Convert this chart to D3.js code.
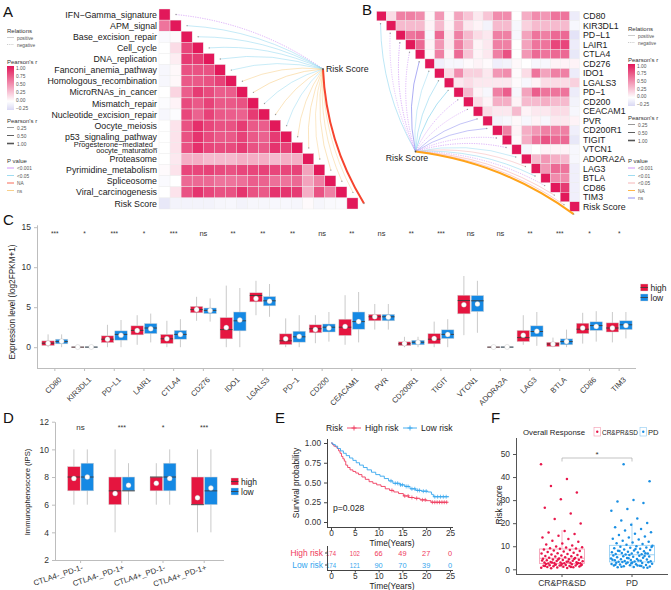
<!DOCTYPE html>
<html>
<head>
<meta charset="utf-8">
<script src="https://cdn.jsdelivr.net/npm/d3@7"></script>
<style>
  body { margin: 0; background: #fff; }
  svg { font-family: "Liberation Sans", Arial, sans-serif; }
</style>
</head>
<body>
<svg id="fig" width="671" height="590"></svg>
<script>
// ---------- data: panel A (pathway correlation, lower triangle) ----------
const pathways = ['IFN\u2212Gamma_signature', 'APM_signal', 'Base_excision_repair', 'Cell_cycle',
  'DNA_replication', 'Fanconi_anemia_pathway', 'Homologous_recombination', 'MicroRNAs_in_cancer',
  'Mismatch_repair', 'Nucleotide_excision_repair', 'Oocyte_meiosis', 'p53_signaling_pathway',
  'Progesterone\u2212mediated_|oocyte_maturation', 'Proteasome', 'Pyrimidine_metabolism',
  'Spliceosome', 'Viral_carcinogenesis', 'Risk Score'];
const corA = [
  [1],
  [0.6, 1],
  [-0.03, 0.02, 1],
  [0.0, 0.15, 0.8, 1],
  [0.0, 0.08, 0.85, 0.85, 1],
  [-0.05, 0.03, 0.75, 0.75, 0.75, 1],
  [-0.05, 0.03, 0.72, 0.72, 0.75, 0.82, 1],
  [0.0, 0.18, 0.7, 0.85, 0.78, 0.7, 0.7, 1],
  [-0.02, 0.05, 0.78, 0.72, 0.82, 0.72, 0.72, 0.75, 1],
  [-0.05, -0.02, 0.8, 0.68, 0.82, 0.72, 0.7, 0.68, 0.85, 1],
  [0.0, 0.12, 0.75, 0.9, 0.8, 0.75, 0.75, 0.85, 0.72, 0.7, 1],
  [0.0, 0.12, 0.75, 0.88, 0.78, 0.72, 0.72, 0.82, 0.72, 0.68, 0.85, 1],
  [0.0, 0.12, 0.75, 0.9, 0.8, 0.78, 0.78, 0.85, 0.75, 0.72, 0.88, 0.82, 1],
  [0.0, 0.1, 0.35, 0.35, 0.3, 0.3, 0.3, 0.35, 0.35, 0.35, 0.3, 0.35, 0.35, 1],
  [0.02, 0.12, 0.8, 0.8, 0.82, 0.78, 0.75, 0.8, 0.8, 0.82, 0.8, 0.8, 0.82, 0.4, 1],
  [-0.03, 0.0, 0.65, 0.65, 0.65, 0.6, 0.6, 0.62, 0.7, 0.68, 0.62, 0.6, 0.65, 0.4, 0.55, 1],
  [0.0, 0.12, 0.75, 0.88, 0.8, 0.75, 0.75, 0.88, 0.75, 0.72, 0.88, 0.88, 0.85, 0.35, 0.75, 0.55, 1],
  [-0.15, -0.08, -0.08, -0.08, -0.08, -0.06, -0.05, -0.08, -0.06, -0.06, -0.05, -0.05, -0.06, 0.02, -0.06, -0.04, -0.03, 1]
];
const linkPA = ['<0.001', '<0.05', '<0.05', '<0.05', '<0.05', '<0.05', 'ns', 'ns', '<0.05', 'ns',
  '<0.05', 'ns', 'ns', 'ns', 'ns', 'ns', 'ns', 'NA'];
const linkRelA = ['negative', 'positive', 'positive', 'positive', 'positive', 'positive', 'positive',
  'positive', 'positive', 'positive', 'positive', 'positive', 'positive', 'positive', 'positive',
  'positive', 'positive', 'positive'];

// ---------- data: panel B (checkpoint genes, upper triangle) ----------
const genes = ['CD80', 'KIR3DL1', 'PD\u2212L1', 'LAIR1', 'CTLA4', 'CD276', 'IDO1', 'LGALS3', 'PD\u22121',
  'CD200', 'CEACAM1', 'PVR', 'CD200R1', 'TIGIT', 'VTCN1', 'ADORA2A', 'LAG3', 'BTLA', 'CD86', 'TIM3'];
const corB = [
  [1, 0.15, 0.55, 0.55, 0.5, 0.03, 0.45, 0.03, 0.4, 0.25, 0.1, 0.25, 0.5, 0.5, 0.0, 0.35, 0.5, 0.45, 0.6, 0.6, -0.12],
  [1, 0.3, 0.3, 0.3, 0.05, 0.3, 0.05, 0.35, 0.1, 0.05, -0.08, 0.3, 0.3, -0.05, 0.2, 0.3, 0.3, 0.3, 0.3, -0.05],
  [1, 0.6, 0.65, -0.05, 0.65, 0.1, 0.55, 0.3, 0.15, 0.1, 0.55, 0.55, -0.05, 0.4, 0.6, 0.55, 0.65, 0.65, -0.18],
  [1, 0.65, 0.05, 0.45, 0.1, 0.55, 0.3, 0.05, 0.1, 0.55, 0.55, 0.0, 0.4, 0.6, 0.6, 0.8, 0.8, -0.12],
  [1, 0.03, 0.55, 0.05, 0.65, 0.25, 0.05, 0.1, 0.55, 0.75, 0.0, 0.45, 0.65, 0.6, 0.65, 0.65, -0.15],
  [1, -0.1, -0.05, -0.05, 0.02, 0.05, 0.02, -0.1, -0.08, 0.03, 0.0, -0.05, -0.05, 0.05, 0.05, 0.05],
  [1, 0.15, 0.5, 0.2, 0.2, 0.1, 0.45, 0.5, 0.02, 0.15, 0.6, 0.4, 0.55, 0.55, -0.12],
  [1, 0.1, 0.15, 0.1, 0.1, 0.1, 0.1, 0.02, -0.05, 0.05, 0.15, 0.15, 0.15, 0.2],
  [1, 0.3, 0.05, -0.05, 0.55, 0.7, -0.05, 0.4, 0.7, 0.6, 0.6, 0.6, -0.12],
  [1, 0.15, 0.05, 0.35, 0.35, 0.05, 0.3, 0.3, 0.35, 0.3, 0.3, -0.08],
  [1, 0.15, 0.1, 0.1, 0.3, 0.05, 0.1, 0.1, 0.15, 0.15, -0.05],
  [1, -0.08, -0.05, 0.03, -0.05, 0.05, -0.05, 0.1, 0.1, 0.05],
  [1, 0.55, 0.05, 0.35, 0.45, 0.55, 0.55, 0.55, -0.1],
  [1, 0.02, 0.35, 0.6, 0.75, 0.65, 0.65, -0.15],
  [1, -0.05, 0.0, 0.05, 0.05, 0.05, -0.05],
  [1, 0.3, 0.45, 0.35, 0.3, -0.05],
  [1, 0.45, 0.65, 0.6, -0.1],
  [1, 0.5, 0.5, -0.1],
  [1, 0.85, -0.1],
  [1, -0.1],
  [1]
];
const linkPB = ['<0.01', '<0.001', '<0.001', '<0.001', 'ns', '<0.01', '<0.01', '<0.01', '<0.001', '<0.001',
  'ns', 'ns', '<0.001', '<0.001', '<0.01', '<0.05', '<0.01', '<0.001', '<0.05', '<0.05', 'NA'];
const linkRelB = ['positive', 'negative', 'negative', 'negative', 'positive', 'positive', 'positive',
  'positive', 'negative', 'negative', 'positive', 'positive', 'negative', 'negative', 'positive',
  'positive', 'positive', 'negative', 'positive', 'positive', 'positive'];

// ---------- data: panel C (expression, [min, q1, median, q3, max, mean]) ----------
const exprHigh = [
  [0, 0.21, 0.5, 0.79, 1.6, 0.5], [0, 0, 0.01, 0.04, 0.1, 0.02], [0, 0.58, 1.0, 1.42, 2.8, 1.0],
  [0.3, 1.54, 2.1, 2.67, 4.0, 2.1], [0, 0.46, 1.05, 1.6, 3.3, 1.05], [3.3, 4.3, 4.7, 5.1, 6.3, 4.7],
  [0, 1.04, 2.2, 3.7, 7.7, 2.45], [4.0, 5.67, 6.46, 6.8, 8.3, 6.1], [0, 0.33, 0.8, 1.67, 3.6, 1.05],
  [0.5, 1.8, 2.3, 2.8, 4.0, 2.2], [0.3, 1.46, 2.5, 3.5, 6.5, 2.6], [2.2, 3.3, 3.8, 4.1, 5.4, 3.8],
  [0, 0.2, 0.42, 0.67, 1.3, 0.45], [0, 0.42, 1.0, 1.7, 3.2, 1.1], [1.5, 4.17, 5.83, 6.5, 8.9, 5.3],
  [0, 0, 0.01, 0.04, 0.1, 0.02], [0.3, 0.7, 1.2, 2.1, 4.0, 1.5], [0, 0.08, 0.4, 0.62, 1.2, 0.4],
  [0.45, 1.7, 2.25, 3.0, 4.3, 2.4], [0.6, 1.9, 2.4, 3.04, 4.4, 2.4]
];
const exprLow = [
  [0, 0.42, 0.7, 1.0, 1.6, 0.75], [0, 0, 0.01, 0.05, 0.1, 0.03], [0, 0.88, 1.6, 2.04, 3.4, 1.5],
  [0.6, 1.7, 2.4, 2.96, 4.2, 2.3], [0, 1.0, 1.6, 2.1, 3.5, 1.6], [3.2, 4.2, 4.6, 4.9, 6.1, 4.6],
  [0, 2.04, 3.3, 4.4, 7.4, 3.4], [3.8, 5.17, 5.8, 6.33, 7.9, 5.75], [0, 0.63, 1.3, 2.0, 4.0, 1.35],
  [0.7, 1.9, 2.5, 2.9, 4.4, 2.4], [0.6, 2.25, 3.2, 4.4, 6.9, 3.2], [2.2, 3.3, 3.8, 4.1, 5.4, 3.75],
  [0, 0.3, 0.62, 0.87, 1.3, 0.62], [0, 1.08, 1.6, 2.17, 3.5, 1.6], [1.8, 4.46, 5.8, 6.46, 8.3, 5.4],
  [0, 0, 0.01, 0.05, 0.1, 0.03], [0.17, 1.3, 1.96, 2.67, 4.4, 2.0], [0, 0.3, 0.7, 1.04, 2.2, 0.7],
  [0.7, 2.1, 2.7, 3.17, 4.5, 2.6], [1.1, 2.2, 2.8, 3.3, 4.4, 2.7]
];
const exprSig = ['***', '*', '***', '*', '***', 'ns', '**', '**', '**', 'ns', '**', 'ns', '**', '***',
  'ns', 'ns', '**', '***', '*', '*'];
const exprTicks = [0, 5, 10, 15];

// ---------- data: panel D (IPS) ----------
const ipsGroups = ['CTLA4-_PD-1-', 'CTLA4-_PD-1+', 'CTLA4+_PD-1-', 'CTLA4+_PD-1+'];
const ipsHigh = [[6, 7, 8, 8.75, 10, 7.9], [4, 6, 7, 8, 10, 6.8], [6, 7, 8, 8, 9, 7.55], [4, 6, 6, 8, 10, 6.5]];
const ipsLow = [[6, 7, 8, 9, 10, 8.0], [6, 7, 7, 8, 9, 7.4], [6, 7, 8, 9, 10, 7.9], [4, 6, 7, 8, 10, 7.2]];
const ipsSig = ['ns', '***', '*', '***'];
const ipsTicks = [2, 4, 6, 8, 10, 12];

// ---------- data: panel E (Kaplan-Meier) ----------
const kmHighTime = [0, 0.3, 0.6, 1.0, 1.3, 1.6, 1.9, 2.2, 2.5, 2.8, 3.1, 3.5, 4.0, 4.6, 5.2, 5.8, 6.5, 7.2,
  8.0, 8.8, 9.6, 10.5, 11.4, 12.3, 13.2, 14.2, 15.2, 16.3, 17.5, 18.7, 20.0, 21.0, 24.5];
const kmHighSurv = [1, 0.98, 0.96, 0.95, 0.93, 0.9, 0.87, 0.83, 0.8, 0.77, 0.72, 0.69, 0.66, 0.64, 0.62, 0.6,
  0.57, 0.54, 0.51, 0.49, 0.47, 0.45, 0.42, 0.4, 0.38, 0.36, 0.33, 0.31, 0.3, 0.28, 0.27, 0.25, 0.25];
const kmLowTime = [0, 0.4, 0.9, 1.4, 2.0, 2.6, 3.2, 3.9, 4.6, 5.3, 6.0, 6.8, 7.6, 8.5, 9.4, 10.3, 11.2, 12.1,
  13.0, 14.5, 15.5, 16.6, 17.8, 19.0, 20.3, 21.1, 21.5, 24.8];
const kmLowSurv = [1, 0.98, 0.96, 0.93, 0.9, 0.87, 0.84, 0.81, 0.78, 0.75, 0.72, 0.69, 0.66, 0.63, 0.6, 0.58,
  0.55, 0.52, 0.49, 0.47, 0.45, 0.42, 0.4, 0.39, 0.38, 0.35, 0.32, 0.32];
const kmHighCensor = [12.8, 15.5, 16.2, 17.0, 18.0, 19.2, 19.8, 21.3, 21.8, 22.3, 22.8, 23.3, 23.8, 24.3];
const kmLowCensor = [12.6, 13.5, 14.0, 14.6, 15.0, 15.8, 16.2, 17.0, 17.6, 18.2, 18.6, 19.4, 20.0, 21.8,
  22.4, 23.0, 23.6, 24.2];
const kmTicks = [0, 5, 10, 15, 20, 25];
const atRiskHigh = [174, 102, 66, 49, 27, 0];
const atRiskLow = [174, 121, 90, 70, 39, 0];

// ---------- data: panel F (risk score by response) ----------
const respGroups = ['CR&PR&SD', 'PD'];
const riskCR = [45.6, 39.2, 36.1, 33.3, 30.4, 26.7, 24.2, 21.8, 19.9, 16.6, 16.0, 15.3, 14.6, 13.8, 13.1,
  12.4, 11.9, 11.2, 10.8, 10.3, 9.9, 9.6, 9.4, 9.1, 9.0, 8.9, 8.6, 8.4, 8.1, 7.9, 7.7, 7.5, 7.2, 7.0, 6.8,
  6.6, 6.4, 6.2, 6.0, 5.8, 5.7, 5.5, 5.3, 5.2, 5.0, 4.9, 4.7, 4.6, 4.4, 4.3, 4.1, 4.0, 3.9, 3.7, 3.6, 3.5,
  3.3, 3.2, 3.1, 3.0, 2.9, 2.8, 2.7, 2.6, 2.6, 2.5, 4.5, 4.2, 3.8, 3.4, 2.9, 2.7, 2.4, 2.3, 2.2, 2.1, 2.0,
  1.9, 1.8, 1.7, 1.6, 1.5, 1.4, 1.3, 1.2, 1.1, 1.0, 0.9, 0.8, 0.7, 0.6, 0.5, 2.3, 1.8, 1.4, 1.0, 2.0, 1.6];
const riskPD = [45.6, 38.2, 30.1, 29.4, 28.7, 26.1, 25.4, 22.0, 21.2, 20.1, 19.3, 18.2, 17.5, 16.8, 16.1,
  15.4, 14.9, 14.2, 13.8, 13.3, 12.9, 12.4, 12.0, 11.6, 11.3, 11.0, 10.7, 10.2, 10.0, 9.8, 9.5, 9.3, 9.1,
  8.9, 8.6, 8.4, 8.2, 8.0, 7.8, 7.6, 7.4, 7.3, 7.1, 6.9, 6.8, 6.6, 6.5, 6.4, 9.7, 8.8, 7.9, 7.0, 6.2, 6.0,
  5.9, 5.7, 5.5, 5.4, 5.2, 5.0, 4.9, 4.7, 4.5, 4.4, 4.2, 4.0, 3.9, 3.7, 3.6, 3.5, 3.4, 3.3, 5.8, 4.8, 4.1,
  3.8, 3.2, 3.1, 3.0, 2.8, 2.7, 2.5, 2.4, 2.2, 2.1, 1.9, 1.8, 1.6, 1.5, 1.3, 1.2, 1.0, 0.9, 0.8, 2.9, 2.3,
  1.7, 1.1, 0.7, 2.6, 2.0, 1.4];
const respBoxes = [[0.5, 2.5, 4.8, 8.8, 17], [0.6, 3.2, 6.3, 10.4, 20.3]];
const riskTicks = [0, 10, 20, 30, 40, 50];

// ---------- shared styles ----------
const RED = '#e5153f';
const BLUE = '#1589e4';
const corColor = d3.scaleLinear().domain([-0.25, 0, 1]).range(['#d9d8f4', '#ffffff', '#e2185a']);
const pColorA = { '<0.001': '#c57cf5', '<0.05': '#86d3ee', 'NA': '#f6442e', 'ns': '#f6c46e' };
const pColorB = { '<0.001': '#c57cf5', '<0.01': '#86d3ee', '<0.05': '#f3a3a6', 'NA': '#ffa31a', 'ns': '#7474ec' };
const linkWidth = d3.scaleLinear().domain([0, 1]).range([0.35, 2]);

const svg = d3.select('#fig');
const defs = svg.append('defs');

function panelLabel(t, x, y) {
  svg.append('text').attr('x', x).attr('y', y).attr('font-size', 15).attr('fill', '#111').text(t);
}
panelLabel('A', 3, 17);
panelLabel('B', 362, 15);
panelLabel('C', 3, 225);
panelLabel('D', 3, 423);
panelLabel('E', 275, 423);
panelLabel('F', 491, 423);

function linkPath(x1, y1, x2, y2, k) {
  const dx = x2 - x1, dy = y2 - y1;
  const cx = (x1 + x2) / 2 + k * dy, cy = (y1 + y2) / 2 - k * dx;
  return `M${x1},${y1}Q${cx},${cy} ${x2},${y2}`;
}

// legend shared by A and B
function corLegend(g, x, ys, pKeys, pColors) {
  const txt = (t, xx, yy, fs, fill) => g.append('text').attr('x', xx).attr('y', yy)
    .attr('font-size', fs).attr('fill', fill).text(t);
  txt('Relations', x, ys.rel, 6, '#333');
  [['positive', null], ['negative', '1.2,1']].forEach(([t, dash], i) => {
    const yy = ys.rel + 6.5 + i * 7;
    g.append('line').attr('x1', x).attr('x2', x + 7).attr('y1', yy - 2).attr('y2', yy - 2)
      .attr('stroke', '#aaa').attr('stroke-width', 0.6).attr('stroke-dasharray', dash);
    txt(t, x + 10, yy, 4.8, '#555');
  });
  txt("Pearson's r", x, ys.bar - 2, 6, '#333');
  const gid = 'grad' + x;
  const grad = defs.append('linearGradient').attr('id', gid)
    .attr('x1', 0).attr('x2', 0).attr('y1', 1).attr('y2', 0);
  [-0.25, 0, 0.25, 0.5, 0.75, 1].forEach(v => grad.append('stop')
    .attr('offset', (v + 0.25) / 1.25).attr('stop-color', corColor(v)));
  const bs = d3.scaleLinear().domain([-0.25, 1]).range([ys.bar + ys.barH - 2, ys.bar + 2]);
  g.append('rect').attr('x', x).attr('y', ys.bar).attr('width', 7).attr('height', ys.barH)
    .attr('fill', `url(#${gid})`);
  [1, 0.75, 0.5, 0.25, 0, -0.25].forEach(v => {
    txt(v < 0 ? '\u22120.25' : v.toFixed(2), x + 9, bs(v) + 1.7, 4.8, '#555');
  });
  txt("Pearson's r", x, ys.wid, 6, '#333');
  [0.25, 0.5, 1].forEach((v, i) => {
    const yy = ys.wid + 6.5 + i * 8;
    g.append('line').attr('x1', x).attr('x2', x + 7).attr('y1', yy - 2).attr('y2', yy - 2)
      .attr('stroke', '#555').attr('stroke-width', linkWidth(v) * 0.8);
    txt(v.toFixed(2), x + 10, yy, 4.8, '#555');
  });
  txt('P value', x, ys.p, 6, '#333');
  pKeys.forEach((k, i) => {
    const yy = ys.p + 7 + i * 7.5;
    g.append('line').attr('x1', x).attr('x2', x + 7).attr('y1', yy - 2).attr('y2', yy - 2)
      .attr('stroke', pColors[k]).attr('stroke-width', 0.8);
    txt(k, x + 10, yy, 4.8, '#555');
  });
}

// ---------- panel A ----------
(function panelA() {
  const g = svg.append('g');
  const n = pathways.length;
  const x = d3.scaleBand().domain(d3.range(n)).range([159, 358]);
  const y = d3.scaleBand().domain(d3.range(n)).range([9, 209]);
  const cw = x.bandwidth(), ch = y.bandwidth();
  const node = [323, 69];

  corA.forEach((row, i) => row.forEach((v, j) => {
    g.append('rect').attr('x', x(j)).attr('y', y(i)).attr('width', cw).attr('height', ch)
      .attr('fill', corColor(v)).attr('stroke', '#ececec').attr('stroke-width', 0.4);
  }));

  pathways.forEach((p, i) => {
    const parts = p.split('|');
    const t = g.append('text').attr('text-anchor', 'end').attr('font-size', 8.8).attr('fill', '#1a1a1a');
    if (parts.length === 1) {
      t.attr('x', 157).attr('y', y(i) + ch / 2 + 3.1).text(p);
    } else {
      t.attr('font-size', 7.4);
      t.append('tspan').attr('x', 157).attr('y', y(i) + ch / 2 - 0.9).text(parts[0]);
      t.append('tspan').attr('x', 157).attr('y', y(i) + ch / 2 + 5.6).text(parts[1]);
    }
  });

  pathways.forEach((p, i) => {
    const tx = x(i) + cw + 6, ty = y(i) + ch / 2;
    const r = Math.abs(corA[n - 1][i]);
    g.append('path').attr('d', linkPath(tx, ty, node[0], node[1], 0.13))
      .attr('fill', 'none').attr('stroke', pColorA[linkPA[i]])
      .attr('stroke-width', linkWidth(r))
      .attr('stroke-dasharray', linkRelA[i] === 'negative' ? '1.2,1.2' : null);
    g.append('circle').attr('cx', tx).attr('cy', ty).attr('r', 0.7).attr('fill', '#999');
  });
  g.append('circle').attr('cx', node[0]).attr('cy', node[1]).attr('r', 0.9).attr('fill', '#555');
  g.append('text').attr('x', node[0] + 3).attr('y', node[1] + 3.2).attr('font-size', 8.8)
    .attr('fill', '#1a1a1a').text('Risk Score');

  corLegend(g, 7, { rel: 33, bar: 66, barH: 44, wid: 123, p: 163 }, ['<0.001', '<0.05', 'NA', 'ns'], pColorA);
})();

// ---------- panel B ----------
(function panelB() {
  const g = svg.append('g');
  const labels = genes.concat(['Risk Score']);
  const n = labels.length;
  const x = d3.scaleBand().domain(d3.range(n)).range([376.7, 579.5]);
  const y = d3.scaleBand().domain(d3.range(n)).range([11.3, 211.3]);
  const cw = x.bandwidth(), ch = y.bandwidth();
  const node = [415.5, 151.5];

  corB.forEach((row, i) => row.forEach((v, k) => {
    const j = i + k;
    g.append('rect').attr('x', x(j)).attr('y', y(i)).attr('width', cw).attr('height', ch)
      .attr('fill', corColor(v)).attr('stroke', '#ececec').attr('stroke-width', 0.4);
  }));

  labels.forEach((l, i) => {
    g.append('text').attr('x', 583).attr('y', y(i) + ch / 2 + 3.1).attr('font-size', 8.8)
      .attr('fill', '#1a1a1a').text(l);
  });

  labels.forEach((l, i) => {
    const tx = x(i) + cw / 2 - 1, ty = y(i) + ch * 1.3;
    const r = Math.abs(corB[i][n - 1 - i]);
    g.append('path').attr('d', linkPath(tx, ty, node[0], node[1], -0.13))
      .attr('fill', 'none').attr('stroke', pColorB[linkPB[i]])
      .attr('stroke-width', linkWidth(r))
      .attr('stroke-dasharray', linkRelB[i] === 'negative' ? '1.2,1.2' : null);
    g.append('circle').attr('cx', tx).attr('cy', ty).attr('r', 0.7).attr('fill', '#999');
  });
  g.append('circle').attr('cx', node[0]).attr('cy', node[1]).attr('r', 0.9).attr('fill', '#555');
  g.append('text').attr('x', 407).attr('y', 160.5).attr('text-anchor', 'middle').attr('font-size', 8.8)
    .attr('fill', '#1a1a1a').text('Risk Score');

  corLegend(g, 628, { rel: 31, bar: 64, barH: 42, wid: 120, p: 163 },
    ['<0.001', '<0.01', '<0.05', 'NA', 'ns'], pColorB);
})();

// grouped box drawing used by C and D
function drawBox(g, cx, w, s, y, fill) {
  const mid = cx + w / 2;
  g.append('line').attr('x1', mid).attr('x2', mid).attr('y1', y(s[0])).attr('y2', y(s[4]))
    .attr('stroke', '#c4c4c4').attr('stroke-width', 0.9);
  g.append('rect').attr('x', cx).attr('y', y(s[3])).attr('width', w)
    .attr('height', Math.max(0.6, y(s[1]) - y(s[3])))
    .attr('fill', fill).attr('stroke', '#d4d4d4').attr('stroke-width', 0.5);
  g.append('line').attr('x1', cx).attr('x2', cx + w).attr('y1', y(s[2])).attr('y2', y(s[2]))
    .attr('stroke', '#3a3a3a').attr('stroke-width', 0.9);
  g.append('circle').attr('cx', mid).attr('cy', y(s[5])).attr('r', 2.5)
    .attr('fill', '#fff').attr('stroke', '#aaa').attr('stroke-width', 0.3);
}

function styleAxis(a, lineColor, fs) {
  a.select('.domain').attr('stroke', lineColor);
  a.selectAll('.tick line').attr('stroke', lineColor);
  a.selectAll('.tick text').attr('fill', '#333').attr('font-size', fs)
    .attr('font-family', '"Liberation Sans", Arial, sans-serif');
}

function boxLegend(g, x, y0, fs) {
  [['high', RED], ['low', BLUE]].forEach(([t, c], i) => {
    const yy = y0 + i * 10;
    g.append('rect').attr('x', x).attr('y', yy).attr('width', 7.5).attr('height', 7)
      .attr('fill', c).attr('stroke', '#d4d4d4').attr('stroke-width', 0.4);
    g.append('line').attr('x1', x).attr('x2', x + 7.5).attr('y1', yy + 3.5).attr('y2', yy + 3.5)
      .attr('stroke', '#3a3a3a').attr('stroke-width', 0.8);
    g.append('text').attr('x', x + 10).attr('y', yy + 6.6).attr('font-size', fs).attr('fill', '#222').text(t);
  });
}

// ---------- panel C ----------
(function panelC() {
  const g = svg.append('g');
  const x = d3.scaleBand().domain(genes).range([40, 634]);
  const y = d3.scaleLinear().domain([-2.6, 15.3]).range([368, 224.8]);
  const sub = d3.scaleBand().domain(['high', 'low']).range([-13, 13]).paddingInner(0.08);
  const center = gname => x(gname) + x.bandwidth() / 2;

  const ya = g.append('g').attr('transform', 'translate(37,0)')
    .call(d3.axisLeft(y).tickValues(exprTicks).tickSize(3).tickSizeOuter(0));
  styleAxis(ya, '#bdbdbd', 8.5);
  const xa = g.append('g').attr('transform', 'translate(0,368)')
    .call(d3.axisBottom(x).tickSize(3).tickSizeOuter(0));
  xa.select('.domain').attr('d', 'M37,0.5H636');
  styleAxis(xa, '#bdbdbd', 7.6);
  xa.selectAll('.tick text').attr('text-anchor', 'end').attr('dx', 0).attr('dy', 0)
    .attr('transform', 'translate(3,8) rotate(-45)');

  genes.forEach((gn, i) => {
    const c = center(gn);
    drawBox(g, c + sub('high'), sub.bandwidth(), exprHigh[i], y, RED);
    drawBox(g, c + sub('low'), sub.bandwidth(), exprLow[i], y, BLUE);
    g.append('text').attr('x', c).attr('y', y(14.2) + 2).attr('text-anchor', 'middle')
      .attr('font-size', exprSig[i] === 'ns' ? 7.5 : 6.5).attr('fill', '#333').text(exprSig[i]);
  });

  g.append('text').attr('transform', 'translate(14.5,302) rotate(-90)').attr('text-anchor', 'middle')
    .attr('font-size', 8.2).attr('fill', '#222').text('Expression level (log2FPKM+1)');
  boxLegend(g, 640.5, 284, 8.5);
})();

// ---------- panel D ----------
(function panelD() {
  const g = svg.append('g');
  const x = d3.scaleBand().domain(ipsGroups).range([60, 224.8]);
  const y = d3.scaleLinear().domain([2, 12]).range([560, 421.7]);
  const sub = d3.scaleBand().domain(['high', 'low']).range([-13, 13]).paddingInner(0.06);

  const ya = g.append('g').attr('transform', 'translate(55,0)')
    .call(d3.axisLeft(y).tickValues(ipsTicks).tickSize(3).tickSizeOuter(0));
  styleAxis(ya, '#bdbdbd', 8.5);
  const xa = g.append('g').attr('transform', 'translate(0,560)')
    .call(d3.axisBottom(x).tickSize(3).tickSizeOuter(0));
  xa.select('.domain').attr('d', 'M55,0.5H224');
  styleAxis(xa, '#bdbdbd', 7.8);
  xa.selectAll('.tick text').attr('text-anchor', 'end').attr('dx', 0).attr('dy', 0)
    .attr('transform', 'translate(1,4) rotate(-18)');

  ipsGroups.forEach((gr, i) => {
    const c = x(gr) + x.bandwidth() / 2;
    drawBox(g, c + sub('high'), sub.bandwidth(), ipsHigh[i], y, RED);
    drawBox(g, c + sub('low'), sub.bandwidth(), ipsLow[i], y, BLUE);
    g.append('text').attr('x', c).attr('y', 430).attr('text-anchor', 'middle')
      .attr('font-size', ipsSig[i] === 'ns' ? 8 : 7).attr('fill', '#333').text(ipsSig[i]);
  });
  g.append('text').attr('transform', 'translate(30,492) rotate(-90)').attr('text-anchor', 'middle')
    .attr('font-size', 7.6).attr('fill', '#222').text('Immunophenoscore (IPS)');
  boxLegend(g, 231, 478, 8.5);
})();

// ---------- panel E ----------
(function panelE() {
  const g = svg.append('g');
  const x = d3.scaleLinear().domain([0, 25]).range([331, 450]);
  const y = d3.scaleLinear().domain([0, 1]).range([522, 443]);
  const KRED = '#ef3b5d', KBLUE = '#35a6ee';

  const ya = g.append('g').attr('transform', 'translate(327,0)')
    .call(d3.axisLeft(y).tickValues([0, 0.25, 0.5, 0.75, 1]).tickFormat(d3.format('.2f')).tickSize(3).tickSizeOuter(0));
  ya.select('.domain').attr('d', 'M0.5,439V527');
  styleAxis(ya, '#444', 8.3);
  const xa = g.append('g').attr('transform', 'translate(0,527)')
    .call(d3.axisBottom(x).tickValues(kmTicks).tickSize(3).tickPadding(0.3).tickSizeOuter(0));
  xa.select('.domain').attr('d', 'M327,0.5H453');
  styleAxis(xa, '#444', 8.3);

  const line = d3.line().curve(d3.curveStepAfter).x(d => x(d[0])).y(d => y(d[1]));
  const curves = [[kmHighTime, kmHighSurv, kmHighCensor, KRED], [kmLowTime, kmLowSurv, kmLowCensor, KBLUE]];
  curves.forEach(([t, s, cens, col]) => {
    g.append('path').attr('d', line(t.map((tt, i) => [tt, s[i]]))).attr('fill', 'none')
      .attr('stroke', col).attr('stroke-width', 0.9);
    cens.forEach(ct => {
      const sv = s[d3.bisectRight(t, ct) - 1];
      const px = x(ct), py = y(sv);
      g.append('path').attr('d', `M${px - 2},${py}H${px + 2}M${px},${py - 2}V${py + 2}`)
        .attr('stroke', col).attr('stroke-width', 0.7);
    });
  });

  g.append('text').attr('x', 333).attr('y', 511).attr('font-size', 8.6).attr('fill', '#222').text('p=0.028');
  g.append('text').attr('transform', 'translate(299,483) rotate(-90)').attr('text-anchor', 'middle')
    .attr('font-size', 8.4).attr('fill', '#222').text('Survival probability');
  g.append('text').attr('x', 392).attr('y', 545.5).attr('text-anchor', 'middle')
    .attr('font-size', 8.4).attr('fill', '#222').text('Time(Years)');

  // legend
  g.append('text').attr('x', 326).attr('y', 431).attr('font-size', 8.6).attr('fill', '#222').text('Risk');
  [[347, 'High risk', KRED, 365], [403, 'Low risk', KBLUE, 421]].forEach(([lx, t, col, tx]) => {
    g.append('path').attr('d', `M${lx},428H${lx + 14}M${lx + 7},425.5V430.5M${lx + 4.5},428H${lx + 9.5}`)
      .attr('stroke', col).attr('stroke-width', 0.9);
    g.append('text').attr('x', tx).attr('y', 431).attr('font-size', 8.6).attr('fill', '#222').text(t);
  });

  // risk table
  [[atRiskHigh, 'High risk', KRED, 556], [atRiskLow, 'Low risk', KBLUE, 568]].forEach(([vals, t, col, yy]) => {
    g.append('text').attr('x', 323).attr('y', yy).attr('text-anchor', 'end').attr('font-size', 8.4)
      .attr('fill', col).text(t);
    vals.forEach((v, i) => {
      const tt = g.append('text').attr('x', x(kmTicks[i])).attr('y', yy).attr('text-anchor', 'middle')
        .attr('font-size', 7.4).attr('fill', col).text(v);
      if (String(v).length === 3) tt.attr('textLength', 10).attr('lengthAdjust', 'spacingAndGlyphs');
    });
  });
  const ta = g.append('g').attr('transform', 'translate(0,570)')
    .call(d3.axisBottom(x).tickValues(kmTicks).tickSize(2.5).tickPadding(0.2).tickSizeOuter(0));
  ta.select('.domain').attr('d', 'M327,0.5H453');
  styleAxis(ta, '#444', 8.3);
  g.append('line').attr('x1', 327.5).attr('x2', 327.5).attr('y1', 546).attr('y2', 570)
    .attr('stroke', '#444');
  [556, 568].forEach(yy => g.append('line').attr('x1', 325).attr('x2', 327.5)
    .attr('y1', yy - 3).attr('y2', yy - 3).attr('stroke', '#444'));
  g.append('text').attr('x', 392).attr('y', 588.5).attr('text-anchor', 'middle')
    .attr('font-size', 8.4).attr('fill', '#222').text('Time(Years)');
})();

// ---------- panel F ----------
(function panelF() {
  const g = svg.append('g');
  const x = d3.scaleBand().domain(respGroups).range([527, 667]);
  const y = d3.scaleLinear().domain([0, 50]).range([569.3, 454]);
  const cols = [['#e8174b', '#f39ab0'], ['#1a8fe3', '#8ccaf2']];

  const ya = g.append('g').attr('transform', 'translate(516,0)')
    .call(d3.axisLeft(y).tickValues(riskTicks).tickSize(3).tickSizeOuter(0));
  ya.select('.domain').attr('d', 'M0.5,438V574');
  styleAxis(ya, '#555', 8.4);
  const xa = g.append('g').attr('transform', 'translate(0,574)')
    .call(d3.axisBottom(x).tickSize(3).tickSizeOuter(0));
  xa.select('.domain').attr('d', 'M516,0.5H668');
  styleAxis(xa, '#555', 8.6);

  [riskCR, riskPD].forEach((vals, gi) => {
    const c = x(respGroups[gi]) + x.bandwidth() / 2;
    const b = respBoxes[gi];
    const bw = 45;
    g.append('line').attr('x1', c).attr('x2', c).attr('y1', y(b[0])).attr('y2', y(b[4]))
      .attr('stroke', cols[gi][1]).attr('stroke-width', 0.7);
    g.append('rect').attr('x', c - bw / 2).attr('y', y(b[3])).attr('width', bw)
      .attr('height', y(b[1]) - y(b[3])).attr('fill', '#fff').attr('stroke', cols[gi][1]).attr('stroke-width', 0.8);
    g.append('line').attr('x1', c - bw / 2).attr('x2', c + bw / 2).attr('y1', y(b[2])).attr('y2', y(b[2]))
      .attr('stroke', cols[gi][1]).attr('stroke-width', 0.9);
    vals.forEach((v, i) => {
      const jit = ((i * 0.618034 + gi * 0.3) % 1 - 0.5) * 42;
      g.append('circle').attr('cx', c + jit).attr('cy', y(v)).attr('r', 1.25).attr('fill', cols[gi][0]);
    });
  });

  const c1 = x(respGroups[0]) + x.bandwidth() / 2, c2 = x(respGroups[1]) + x.bandwidth() / 2;
  g.append('path').attr('d', `M${c1},461.5V458H${c2}V461.5`).attr('fill', 'none')
    .attr('stroke', '#aaa').attr('stroke-width', 0.7);
  g.append('text').attr('x', (c1 + c2) / 2).attr('y', 457).attr('text-anchor', 'middle')
    .attr('font-size', 8).attr('fill', '#333').text('*');

  g.append('text').attr('transform', 'translate(502,505) rotate(-90)').attr('text-anchor', 'middle')
    .attr('font-size', 8.4).attr('fill', '#222').text('Risk score');

  g.append('text').attr('x', 523).attr('y', 435).attr('font-size', 7.8).attr('fill', '#222').text('Overall Response');
  [[594, 'CR&PR&SD', 0, 36], [640, 'PD', 1, 0]].forEach(([lx, t, gi, len]) => {
    g.append('rect').attr('x', lx).attr('y', 427.5).attr('width', 6.5).attr('height', 8.5)
      .attr('fill', '#fff').attr('stroke', cols[gi][1]).attr('stroke-width', 0.6);
    g.append('circle').attr('cx', lx + 3.25).attr('cy', 431.7).attr('r', 1.2).attr('fill', cols[gi][0]);
    const tt = g.append('text').attr('x', lx + 8).attr('y', 435).attr('font-size', 7.6)
      .attr('fill', '#222').text(t);
    if (len) tt.attr('textLength', len).attr('lengthAdjust', 'spacingAndGlyphs');
  });
})();
</script>
</body>
</html>
